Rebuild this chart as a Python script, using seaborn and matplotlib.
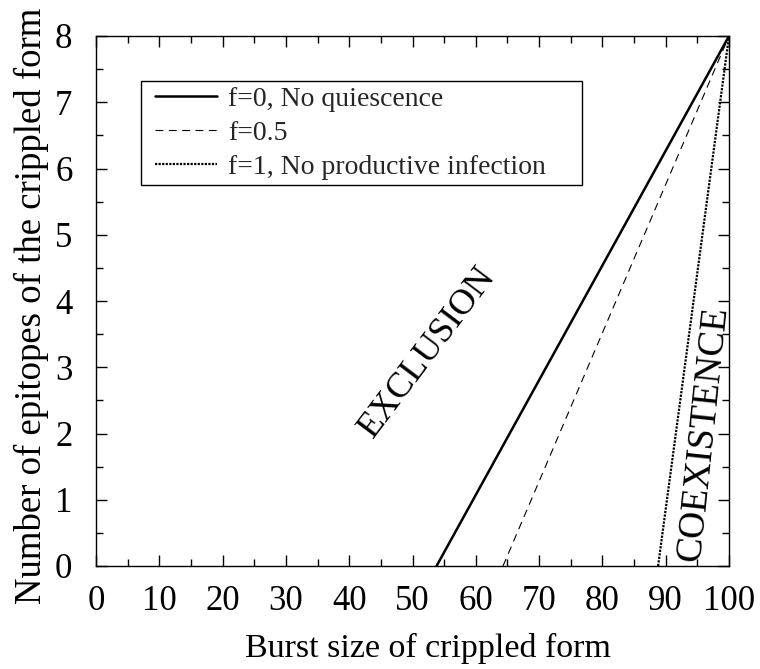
import numpy as np
import pandas as pd
import matplotlib
matplotlib.use("Agg")
import matplotlib.pyplot as plt
from matplotlib.ticker import MultipleLocator
from matplotlib.lines import Line2D
from matplotlib.legend_handler import HandlerLine2D
import seaborn as sns

# Data
series = ["f=0, No quiescence", "f=0.5", "f=1, No productive infection"]
x_start = [53.8, 64.3, 88.8]   # burst size where epitopes = 0
x_end = [100, 100, 100]
y_start = [0, 0, 0]
y_end = [8, 8, 8]
x_ticks = [0, 10, 20, 30, 40, 50, 60, 70, 80, 90, 100]
y_ticks = [0, 1, 2, 3, 4, 5, 6, 7, 8]

rows = []
for s, xs, xe, ys, ye in zip(series, x_start, x_end, y_start, y_end):
    rows.append({"series": s, "x": xs, "y": ys})
    rows.append({"series": s, "x": xe, "y": ye})
df = pd.DataFrame(rows)

sns.set_style("ticks")
plt.rcParams['font.family'] = ['Liberation Serif', 'DejaVu Serif']

fig = plt.figure(figsize=(7.6, 6.69), dpi=100)
ax = fig.add_axes([96/760, 1 - 566/669, (729-96)/760, (566-36)/669])

styles = {
    series[0]: dict(ls="-", lw=1.8),
    series[1]: dict(ls=(0, (7, 5)), lw=0.8),
    series[2]: dict(ls=(0, (1, 0.6)), lw=1.6),
}
for s in series:
    sub = df[df["series"] == s]
    sns.lineplot(data=sub, x="x", y="y", ax=ax, color="black", label=s,
                 estimator=None, sort=False, **styles[s])

ax.set_xlim(0, 100)
ax.set_ylim(0, 8)
ax.set_xticks(x_ticks)
ax.set_yticks(y_ticks)
ax.xaxis.set_minor_locator(MultipleLocator(5))
ax.yaxis.set_minor_locator(MultipleLocator(0.5))
ax.tick_params(which="both", direction="in", top=True, right=True, color="black", width=1)
ax.tick_params(which="major", length=8, labelsize=25, labelcolor="black")
ax.tick_params(axis="x", which="major", pad=13.5)
ax.tick_params(axis="y", which="major", pad=17)
ax.tick_params(which="minor", length=5)
for sp in ax.spines.values():
    sp.set_color("black")
    sp.set_linewidth(1)

ax.set_xlabel("Burst size of crippled form", fontsize=24.5, color="black", labelpad=11)
ax.set_ylabel("Number of epitopes of the crippled form", fontsize=26.5, color="black", labelpad=4)
ax.xaxis.label.set_x((428 - 96) / 633)
ax.yaxis.label.set_y((566 - 306) / 530)

leg = ax.legend(loc="upper left",
                bbox_to_anchor=((141-96)/633, 1 - (184-36)/530, (582-141)/633, (184-81)/530),
                mode="expand", fontsize=20,
                frameon=True, fancybox=False, edgecolor="black", framealpha=1,
                handlelength=2.55, handletextpad=0.4, borderpad=0.2, labelspacing=0.3,
                borderaxespad=0, handler_map={Line2D: HandlerLine2D(xpad=0.29)})
leg.get_frame().set_linewidth(1)

ax.text(52.4, 3.23, "EXCLUSION", rotation=53, fontsize=26, ha="center", va="center",
        rotation_mode="anchor", color="black")
ax.text(96.0, 2.0, "COEXISTENCE", rotation=84, fontsize=27, ha="center", va="center",
        rotation_mode="anchor", color="black")

fig.savefig("out.png", dpi=100)
